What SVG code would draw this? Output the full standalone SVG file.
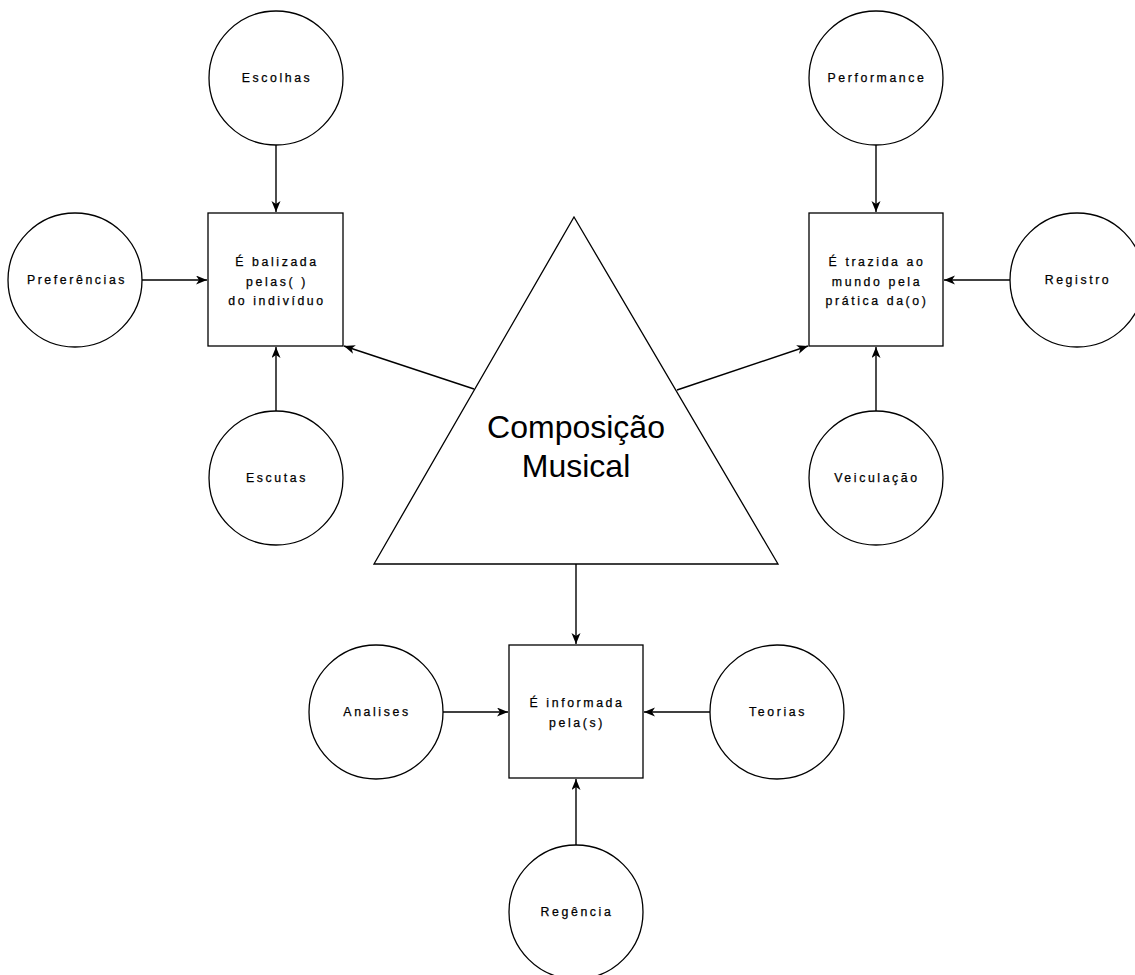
<svg xmlns="http://www.w3.org/2000/svg" width="1135" height="975" viewBox="0 0 1135 975">
  <style>
    .node { fill: #ffffff; stroke: #000000; stroke-width: 1.3; }
    .edge { fill: none; stroke: #000000; stroke-width: 1.4; marker-end: url(#arrow); }
    .lbl { font-family: "Liberation Sans", Arial, sans-serif; font-size: 12.3px; letter-spacing: 2.6px; fill: #000000; stroke: #000000; stroke-width: 0.25; text-anchor: middle; }
    .title { font-family: "Liberation Sans", Arial, sans-serif; font-size: 32px; fill: #000000; text-anchor: middle; }
  </style>
  <defs>
    <marker id="arrow" markerUnits="userSpaceOnUse" markerWidth="12" markerHeight="10" refX="11" refY="4.5" orient="auto">
      <path d="M0,0 L11,4.5 L0,9 L3,4.5 Z" fill="#000000"/>
    </marker>
  </defs>
  <rect width="1135" height="975" fill="#ffffff"/>

  <g id="connectors">
    <line class="edge" x1="276" y1="145" x2="276" y2="212"/>
    <line class="edge" x1="142" y1="280" x2="207" y2="280"/>
    <line class="edge" x1="276" y1="411" x2="276" y2="347"/>
    <line class="edge" x1="474" y1="389" x2="344" y2="346"/>
    <line class="edge" x1="677" y1="390" x2="808" y2="346"/>
    <line class="edge" x1="876" y1="145" x2="876" y2="212"/>
    <line class="edge" x1="1010" y1="280" x2="944" y2="280"/>
    <line class="edge" x1="876" y1="411" x2="876" y2="347"/>
    <line class="edge" x1="576" y1="564" x2="576" y2="644"/>
    <line class="edge" x1="443" y1="712" x2="508" y2="712"/>
    <line class="edge" x1="710" y1="712" x2="644" y2="712"/>
    <line class="edge" x1="576" y1="845" x2="576" y2="779"/>
  </g>

  <g id="composicao">
    <polygon class="node" points="574,217 778,564 374,564"/>
    <text class="title" x="576" y="438">Composição</text>
    <text class="title" x="576" y="477">Musical</text>
  </g>

  <g id="balizada">
    <rect class="node" x="208" y="213" width="135" height="133"/>
    <text class="lbl" x="277" y="266">É balizada</text>
    <text class="lbl" x="277" y="286">pelas( )</text>
    <text class="lbl" x="277" y="305">do indivíduo</text>
  </g>
  <g id="trazida">
    <rect class="node" x="809" y="213" width="134" height="133"/>
    <text class="lbl" x="877" y="266">É trazida ao</text>
    <text class="lbl" x="877" y="286">mundo pela</text>
    <text class="lbl" x="877" y="305">prática da(o)</text>
  </g>
  <g id="informada">
    <rect class="node" x="509" y="645" width="134" height="133"/>
    <text class="lbl" x="577" y="707">É informada</text>
    <text class="lbl" x="577" y="727">pela(s)</text>
  </g>

  <g id="escolhas">
    <circle class="node" cx="276" cy="78" r="67"/>
    <text class="lbl" x="277" y="82">Escolhas</text>
  </g>
  <g id="preferencias">
    <circle class="node" cx="75" cy="280" r="67"/>
    <text class="lbl" x="77" y="284">Preferências</text>
  </g>
  <g id="escutas">
    <circle class="node" cx="276" cy="478" r="67"/>
    <text class="lbl" x="277" y="482">Escutas</text>
  </g>
  <g id="performance">
    <circle class="node" cx="876" cy="78" r="67"/>
    <text class="lbl" x="877" y="82">Performance</text>
  </g>
  <g id="registro">
    <circle class="node" cx="1077" cy="280" r="67"/>
    <text class="lbl" x="1078" y="284">Registro</text>
  </g>
  <g id="veiculacao">
    <circle class="node" cx="876" cy="478" r="67"/>
    <text class="lbl" x="877" y="482">Veiculação</text>
  </g>
  <g id="analises">
    <circle class="node" cx="376" cy="712" r="67"/>
    <text class="lbl" x="377" y="716">Analises</text>
  </g>
  <g id="teorias">
    <circle class="node" cx="777" cy="712" r="67"/>
    <text class="lbl" x="778" y="716">Teorias</text>
  </g>
  <g id="regencia">
    <circle class="node" cx="576" cy="912" r="67"/>
    <text class="lbl" x="577" y="916">Regência</text>
  </g>
</svg>
